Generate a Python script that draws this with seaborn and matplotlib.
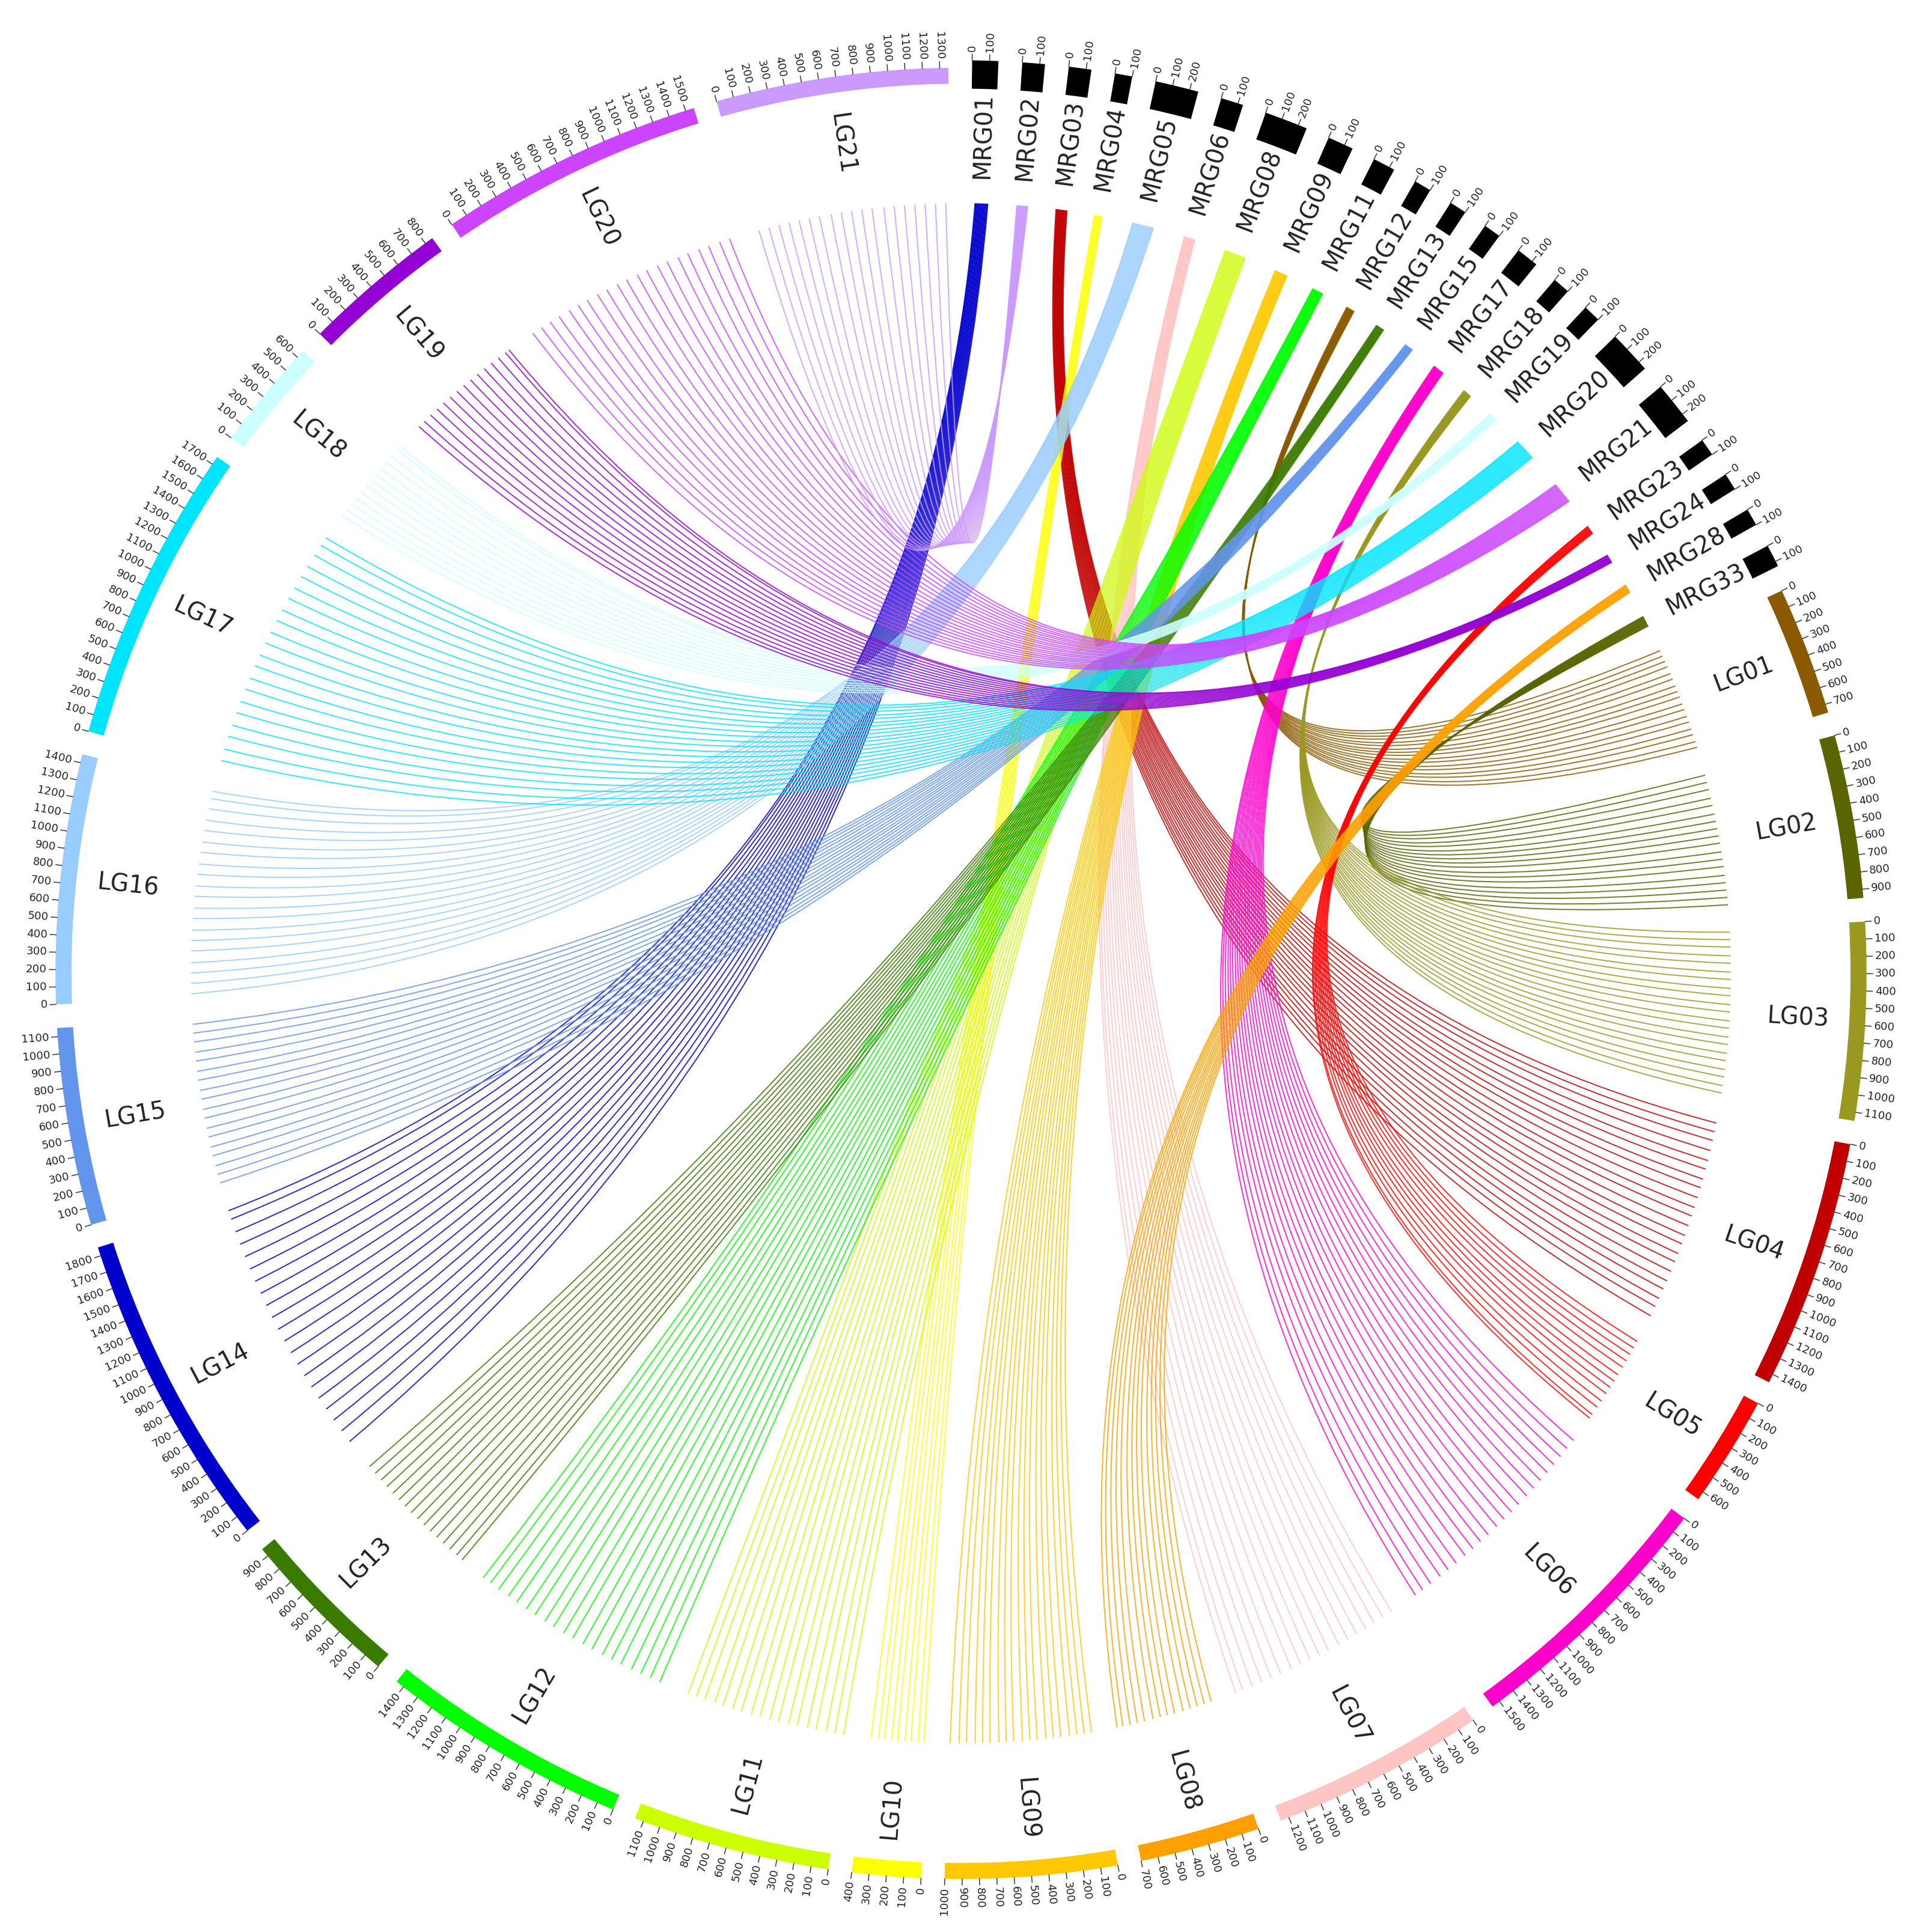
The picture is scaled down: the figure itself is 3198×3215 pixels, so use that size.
import numpy as np
import seaborn as sns
import matplotlib.pyplot as plt
from matplotlib.path import Path
from matplotlib.patches import PathPatch, Wedge

sns.set_theme(style='white')
plt.rcParams['font.family'] = ['DejaVu Sans']

# contigs (MRG) and linkage groups (LG), lengths in cM-like units
mrg_names = ['MRG01', 'MRG02', 'MRG03', 'MRG04', 'MRG05', 'MRG06', 'MRG08', 'MRG09', 'MRG11', 'MRG12',
             'MRG13', 'MRG15', 'MRG17', 'MRG18', 'MRG19', 'MRG20', 'MRG21', 'MRG23', 'MRG24', 'MRG28', 'MRG33']
mrg_len = [150, 130, 130, 100, 250, 130, 250, 150, 130, 100, 100, 100, 130, 100, 100, 250, 250, 100, 100, 100, 130]
lg_names = ['LG%02d' % i for i in range(1, 22)]
lg_len = [750, 950, 1150, 1450, 650, 1550, 1250, 700, 1000, 400, 1150,
          1450, 950, 1850, 1150, 1450, 1750, 650, 850, 1550, 1350]
lg_colors = ['#8b5a00', '#5a6400', '#999922', '#c00000', '#ff0000', '#ff00cc', '#ffc4c4', '#ffa000',
             '#ffc800', '#ffff00', '#ccff00', '#00ff00', '#3a7a00', '#0000cc', '#6495ed', '#99ccff',
             '#00e5ff', '#ccffff', '#9400d3', '#cc44ff', '#cc99ff']

# link bundles: LG -> source contig, positions on the LG
links = {
    'LG01': ('MRG12', [20, 60, 100, 140, 190, 230, 280, 320, 360, 410, 450, 500, 540, 590, 630, 680, 720]),
    'LG02': ('MRG33', [30, 80, 130, 190, 240, 300, 350, 400, 450, 500, 560, 610, 660, 720, 770, 820, 870, 920]),
    'LG03': ('MRG18', [20, 70, 120, 180, 230, 290, 340, 400, 450, 510, 560, 620, 670, 730, 780, 840, 890, 950, 1000, 1060, 1110]),
    'LG04': ('MRG03', [30, 90, 150, 220, 290, 350, 420, 480, 550, 620, 680, 750, 820, 880, 950, 1010, 1080, 1150, 1210, 1280, 1340, 1410]),
    'LG05': ('MRG23', [20, 70, 120, 170, 220, 280, 330, 380, 430, 490, 540, 600, 630]),
    'LG06': ('MRG17', [30, 100, 170, 240, 310, 380, 450, 520, 600, 670, 740, 810, 890, 960, 1030, 1100, 1180, 1250, 1320, 1400, 1470, 1530]),
    'LG07': ('MRG06', [40, 110, 180, 250, 320, 390, 460, 540, 610, 680, 750, 820, 900, 970, 1040, 1110, 1180, 1230]),
    'LG08': ('MRG28', [20, 70, 120, 170, 220, 280, 330, 380, 430, 490, 540, 590, 640, 680]),
    'LG09': ('MRG09', [20, 70, 120, 170, 230, 280, 330, 390, 440, 490, 550, 600, 650, 710, 760, 810, 870, 920, 980]),
    'LG10': ('MRG04', [20, 60, 110, 150, 200, 240, 290, 330, 380]),
    'LG11': ('MRG08', [30, 90, 150, 220, 280, 350, 410, 480, 540, 610, 670, 740, 800, 870, 930, 1000, 1060, 1120]),
    'LG12': ('MRG11', [40, 110, 180, 250, 330, 400, 470, 550, 620, 700, 770, 850, 920, 1000, 1070, 1150, 1220, 1300, 1370, 1430]),
    'LG13': ('MRG13', [30, 80, 140, 200, 260, 320, 380, 440, 500, 560, 620, 680, 740, 800, 860, 920]),
    'LG14': ('MRG01', [50, 140, 230, 320, 410, 500, 590, 680, 770, 860, 950, 1040, 1130, 1220, 1310, 1400, 1490, 1580, 1670, 1760, 1820]),
    'LG15': ('MRG15', [30, 90, 150, 220, 280, 350, 410, 480, 540, 610, 670, 740, 800, 870, 930, 1000, 1060, 1120]),
    'LG16': ('MRG05', [40, 110, 180, 250, 330, 400, 470, 550, 620, 700, 770, 850, 920, 1000, 1070, 1150, 1220, 1300, 1370, 1420]),
    'LG17': ('MRG20', [50, 130, 220, 300, 390, 470, 560, 640, 730, 810, 900, 980, 1070, 1150, 1240, 1320, 1410, 1490, 1580, 1660, 1720]),
    'LG18': ('MRG19', [20, 70, 120, 170, 220, 280, 330, 380, 430, 490, 540, 600, 630]),
    'LG19': ('MRG24', [30, 80, 140, 200, 260, 320, 380, 440, 500, 560, 620, 680, 740, 800, 830]),
    'LG20': ('MRG21', [40, 110, 180, 250, 330, 400, 470, 550, 620, 700, 770, 850, 920, 1000, 1070, 1150, 1220, 1300, 1370, 1450, 1520]),
    'LG21': ('MRG02', [40, 110, 180, 250, 320, 390, 460, 540, 610, 680, 750, 820, 900, 970, 1040, 1110, 1180, 1250, 1320]),
}

GAP = 1.5
START = 0.7
scale = (360 - GAP * 42) / (sum(mrg_len) + sum(lg_len))
CX, CY = 780, 790
R_IN, R_OUT, R_LINK = 722, 735, 625

segs = {}
a = START
for n, L in zip(mrg_names + lg_names, mrg_len + lg_len):
    segs[n] = (a, L)
    a += L * scale + GAP


def ang(name, pos):
    return segs[name][0] + pos * scale


def xy(theta, r):
    t = np.radians(theta)
    return CX + r * np.sin(t), CY - r * np.cos(t)


fig = plt.figure(figsize=(10.66, 10.717), dpi=300)
ax = fig.add_axes([0, 0, 1, 1])
ax.set_xlim(0, 1560)
ax.set_ylim(1568, 0)
ax.axis('off')


def radial_text(theta, r, s, size, ha_out=True, color='#222222'):
    x, y = xy(theta, r)
    phi = 90 - theta
    if theta % 360 < 180:
        rot, ha = phi, 'left'
    else:
        rot, ha = phi + 180, 'right'
    if not ha_out:
        ha = 'center'
    ax.text(x, y, s, rotation=rot, ha=ha, va='center', fontsize=size,
            rotation_mode='anchor', color=color)


# ideograms (y axis is inverted, so wedge angle = theta - 90)
for n in mrg_names + lg_names:
    a0, L = segs[n]
    a1 = a0 + L * scale
    is_mrg = n.startswith('MRG')
    col = 'black' if is_mrg else lg_colors[lg_names.index(n)]
    r0, r1 = (R_IN - 4, R_OUT + 6) if is_mrg else (R_IN, R_OUT)
    ax.add_patch(Wedge((CX, CY), r1, a0 - 90, a1 - 90, width=r1 - r0,
                       facecolor=col, edgecolor='none'))
    for p in range(0, L + 1, 100):
        t = ang(n, p)
        x0, y0 = xy(t, r1)
        x1, y1 = xy(t, r1 + 5)
        ax.plot([x0, x1], [y0, y1], color='#444444', lw=0.4)
        radial_text(t, r1 + 7, str(p), 4.4)
    radial_text((a0 + a1) / 2, 680, n, 9.5, ha_out=False)

# links
for lg, (mrg, pos_list) in links.items():
    col = lg_colors[lg_names.index(lg)]
    Lg = segs[lg][1]
    Lm = segs[mrg][1]
    for p in pos_list:
        t1 = ang(lg, p)
        t0 = ang(mrg, Lm * 0.2 + Lm * 0.6 * (1 - p / Lg))
        p0 = xy(t0, R_LINK)
        p2 = xy(t1, R_LINK)
        c = (CX + 0.12 * (p0[0] + p2[0] - 2 * CX) / 2, CY + 0.12 * (p0[1] + p2[1] - 2 * CY) / 2)
        path = Path([p0, c, p2], [Path.MOVETO, Path.CURVE3, Path.CURVE3])
        ax.add_patch(PathPatch(path, facecolor='none', edgecolor=col, lw=0.5, alpha=0.8))

plt.savefig('out.png', dpi=300)
